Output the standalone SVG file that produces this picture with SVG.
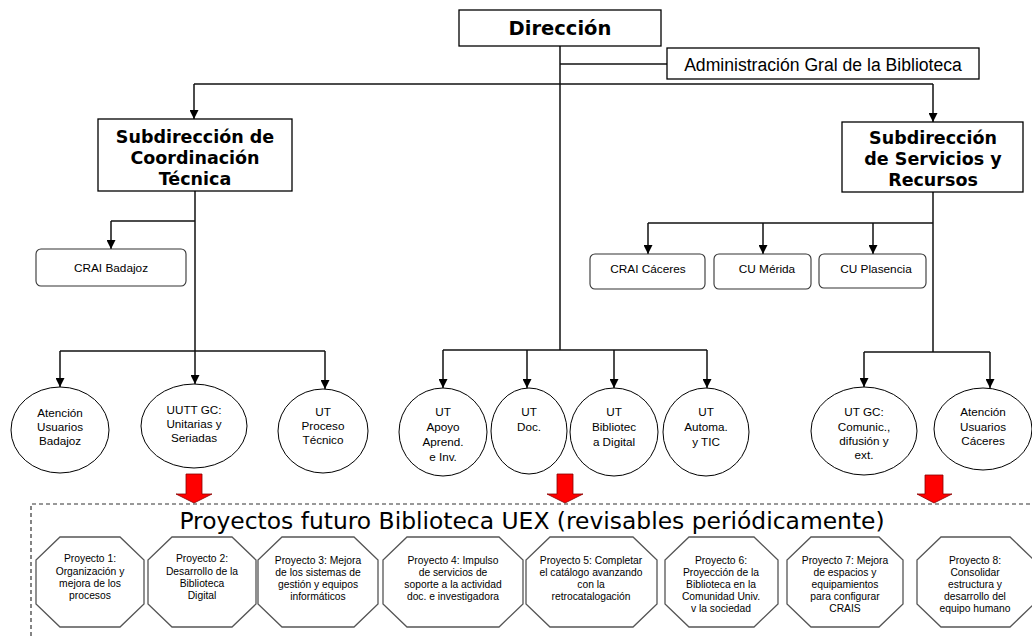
<svg xmlns="http://www.w3.org/2000/svg" width="1032" height="636" viewBox="0 0 1032 636">
<defs>
<marker id="ah" markerUnits="userSpaceOnUse" markerWidth="9" markerHeight="9" refX="9" refY="4.5" orient="auto"><path d="M0,0 L9,4.5 L0,9 z" fill="#000"/></marker>
<style>
.box{fill:#fff;stroke:#000;stroke-width:1.3}
.rbox{fill:#fff;stroke:#333;stroke-width:1.1}
.ell{fill:#fff;stroke:#000;stroke-width:1}
.oct{fill:#fff;stroke:#555;stroke-width:1.3}
.ln{fill:none;stroke:#111;stroke-width:1.5}
.ar{fill:none;stroke:#111;stroke-width:1.5;marker-end:url(#ah)}
.b{font-family:"DejaVu Sans",sans-serif;font-weight:bold;text-anchor:middle;fill:#000}
.s{font-family:"Liberation Sans",Arial,sans-serif;text-anchor:middle;fill:#000}
.e{font-family:"Liberation Sans",Arial,sans-serif;font-size:11.7px;text-anchor:middle;fill:#000}
.o{font-family:"Liberation Sans",Arial,sans-serif;font-size:10.3px;text-anchor:middle;fill:#000}
.red{fill:#f00;stroke:#800;stroke-width:0.8}
</style>
</defs>
<rect width="1032" height="636" fill="#fff"/>

<g id="connectors">
<path class="ln" d="M560,46 V350"/>
<path class="ln" d="M560,64 H667"/>
<path class="ln" d="M194,84 H933" stroke="#444"/>
<path class="ar" d="M194,84 V119"/>
<path class="ar" d="M933,84 V122"/>
<path class="ln" d="M195,191 V351"/>
<path class="ln" d="M195,221 H111"/>
<path class="ar" d="M111,221 V249"/>
<path class="ln" d="M60,351 H325"/>
<path class="ar" d="M60,351 V387"/>
<path class="ar" d="M195,351 V384"/>
<path class="ar" d="M325,351 V389"/>
<path class="ln" d="M443,350 H707"/>
<path class="ar" d="M443,350 V388"/>
<path class="ar" d="M527,350 V388"/>
<path class="ar" d="M614,350 V388"/>
<path class="ar" d="M707,350 V388"/>
<path class="ln" d="M933,192 V352"/>
<path class="ln" d="M648,223 H933"/>
<path class="ar" d="M648,223 V254"/>
<path class="ar" d="M763,223 V254"/>
<path class="ar" d="M873,223 V254"/>
<path class="ln" d="M864,352 H990"/>
<path class="ar" d="M864,352 V387"/>
<path class="ar" d="M990,352 V388"/>
</g>

<g id="direccion"><rect class="box" x="459" y="10" width="202" height="36"/><text class="b" x="560" y="35" font-size="19.5">Dirección</text></g>
<g id="admin"><rect class="box" x="667" y="48" width="312" height="31"/><text class="s" x="823" y="71" font-size="17.6">Administración Gral de la Biblioteca</text></g>
<g id="subdir-coord"><rect class="box" x="98" y="119" width="194" height="72"/>
<text class="b" x="195" y="143" font-size="17.5">Subdirección de</text>
<text class="b" x="195" y="164" font-size="17.5">Coordinación</text>
<text class="b" x="195" y="185" font-size="17.5">Técnica</text></g>
<g id="subdir-serv"><rect class="box" x="842" y="122" width="181" height="70"/>
<text class="b" x="933" y="144" font-size="17.5">Subdirección</text>
<text class="b" x="933" y="165" font-size="17.5">de Servicios y</text>
<text class="b" x="933" y="186" font-size="17.5">Recursos</text></g>

<g id="crai-badajoz"><rect class="rbox" x="36" y="249" width="150" height="37" rx="5"/><text class="s" x="111" y="272" font-size="11.8">CRAI Badajoz</text></g>
<g id="crai-caceres"><rect class="rbox" x="590" y="254" width="115" height="35" rx="5"/><text class="s" x="648" y="273" font-size="11.8">CRAI Cáceres</text></g>
<g id="cu-merida"><rect class="rbox" x="714" y="254" width="97" height="35" rx="5"/><text class="s" x="767" y="273" font-size="11.8">CU Mérida</text></g>
<g id="cu-plasencia"><rect class="rbox" x="819" y="254" width="107" height="34" rx="5"/><text class="s" x="876" y="273" font-size="11.8">CU Plasencia</text></g>

<g id="at-badajoz"><ellipse class="ell" cx="60" cy="430" rx="49" ry="43"/><text class="e" x="60" y="417">Atención</text><text class="e" x="60" y="431">Usuarios</text><text class="e" x="60" y="445">Badajoz</text></g>
<g id="uutt-gc"><ellipse class="ell" cx="194" cy="426" rx="53" ry="42"/><text class="e" x="194" y="414">UUTT GC:</text><text class="e" x="194" y="428">Unitarias y</text><text class="e" x="194" y="442">Seriadas</text></g>
<g id="ut-proceso"><ellipse class="ell" cx="323" cy="431" rx="45" ry="42"/><text class="e" x="323" y="416">UT</text><text class="e" x="323" y="430">Proceso</text><text class="e" x="323" y="444">Técnico</text></g>
<g id="ut-apoyo"><ellipse class="ell" cx="443" cy="432" rx="44" ry="44"/><text class="e" x="443" y="416">UT</text><text class="e" x="443" y="431">Apoyo</text><text class="e" x="443" y="446">Aprend.</text><text class="e" x="443" y="461">e Inv.</text></g>
<g id="ut-doc"><ellipse class="ell" cx="529" cy="431" rx="38" ry="43"/><text class="e" x="529" y="416">UT</text><text class="e" x="529" y="431">Doc.</text></g>
<g id="ut-bd"><ellipse class="ell" cx="614" cy="432" rx="44" ry="44"/><text class="e" x="614" y="416">UT</text><text class="e" x="614" y="431">Bibliotec</text><text class="e" x="614" y="446">a Digital</text></g>
<g id="ut-tic"><ellipse class="ell" cx="706" cy="432" rx="43" ry="44"/><text class="e" x="706" y="416">UT</text><text class="e" x="706" y="431">Automa.</text><text class="e" x="706" y="446">y TIC</text></g>
<g id="ut-gc-com"><ellipse class="ell" cx="864" cy="431" rx="53" ry="44"/><text class="e" x="864" y="416">UT GC:</text><text class="e" x="864" y="431">Comunic.,</text><text class="e" x="864" y="445">difusión y</text><text class="e" x="864" y="459">ext.</text></g>
<g id="at-caceres"><ellipse class="ell" cx="983" cy="429" rx="49" ry="41"/><text class="e" x="983" y="416">Atención</text><text class="e" x="983" y="431">Usuarios</text><text class="e" x="983" y="445">Cáceres</text></g>

<g id="red-arrows">
<path class="red" d="M186,474 H202 V494 H212 L194,503 L176,494 H186 z"/>
<path class="red" d="M557,474 H573 V494 H583 L565,503 L547,494 H557 z"/>
<path class="red" d="M925,475 H943 V494 H952 L934,503 L917,494 H925 z"/>
</g>

<g id="proyectos">
<path d="M31,636 V504 H1032" fill="none" stroke="#333" stroke-width="1.2" stroke-dasharray="4 3"/>
<text x="532" y="529" font-family="DejaVu Sans,sans-serif" font-size="23.4" text-anchor="middle" fill="#000">Proyectos futuro Biblioteca UEX (revisables periódicamente)</text>
</g>

<g id="p1"><polygon class="oct" points="60,537 120,537 144,560 144,604 120,627 60,627 36,604 36,560"/><text class="o" x="90" y="562">Proyecto 1:</text><text class="o" x="90" y="574.5">Organización y</text><text class="o" x="90" y="587">mejora de los</text><text class="o" x="90" y="599">procesos</text></g>
<g id="p2"><polygon class="oct" points="172,537 232,537 256,560 256,604 232,627 172,627 148,604 148,560"/><text class="o" x="202" y="562">Proyecto 2:</text><text class="o" x="202" y="574.5">Desarrollo de la</text><text class="o" x="202" y="587">Biblioteca</text><text class="o" x="202" y="599">Digital</text></g>
<g id="p3"><polygon class="oct" points="282,537 354,537 378,560 378,604 354,627 282,627 258,604 258,560"/><text class="o" x="318" y="564">Proyecto 3: Mejora</text><text class="o" x="318" y="576">de los sistemas de</text><text class="o" x="318" y="588">gestión y equipos</text><text class="o" x="318" y="600">informáticos</text></g>
<g id="p4"><polygon class="oct" points="407,537 499,537 523,560 523,604 499,627 407,627 383,604 383,560"/><text class="o" x="453" y="564">Proyecto 4: Impulso</text><text class="o" x="453" y="576">de servicios de</text><text class="o" x="453" y="588">soporte a la actividad</text><text class="o" x="453" y="600">doc. e investigadora</text></g>
<g id="p5"><polygon class="oct" points="550,537 633,537 657,560 657,604 633,627 550,627 526,604 526,560"/><text class="o" x="591" y="564">Proyecto 5: Completar</text><text class="o" x="591" y="576">el catálogo avanzando</text><text class="o" x="591" y="588">con la</text><text class="o" x="591" y="600">retrocatalogación</text></g>
<g id="p6"><polygon class="oct" points="689,537 754,537 778,560 778,604 754,627 689,627 665,604 665,560"/><text class="o" x="721" y="564">Proyecto 6:</text><text class="o" x="721" y="576">Proyección de la</text><text class="o" x="721" y="588">Biblioteca en la</text><text class="o" x="721" y="600">Comunidad Univ.</text><text class="o" x="721" y="612">v la sociedad</text></g>
<g id="p7"><polygon class="oct" points="811,537 879,537 903,560 903,604 879,627 811,627 787,604 787,560"/><text class="o" x="845" y="564">Proyecto 7: Mejora</text><text class="o" x="845" y="576">de espacios y</text><text class="o" x="845" y="588">equipamientos</text><text class="o" x="845" y="600">para configurar</text><text class="o" x="845" y="612">CRAIS</text></g>
<g id="p8"><polygon class="oct" points="941,537 1010,537 1034,560 1034,604 1010,627 941,627 917,604 917,560"/><text class="o" x="975" y="564">Proyecto 8:</text><text class="o" x="975" y="576">Consolidar</text><text class="o" x="975" y="588">estructura y</text><text class="o" x="975" y="600">desarrollo del</text><text class="o" x="975" y="612">equipo humano</text></g>
</svg>
